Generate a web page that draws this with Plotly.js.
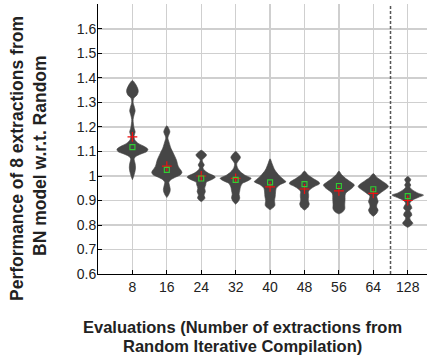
<!DOCTYPE html>
<html><head><meta charset="utf-8">
<script src="https://cdn.plot.ly/plotly-3.0.1.min.js"></script>
<style>html,body{margin:0;padding:0;background:#fff}#chart{width:431px;height:357px}</style>
</head><body><div id="chart"></div>
<script>
// Category labels and positions
var categories = ["8","16","24","32","40","48","56","64","128"];
// Density profiles (value, half-width in category units)
var profY8   = [1.39,1.375,1.355,1.344,1.33,1.318,1.30,1.28,1.266,1.25,1.23,1.195,1.18,1.165,1.15,1.135,1.12,1.109,1.10,1.09,1.08,1.07,1.05,1.033,1.015,1.0,0.985];
var profW8   = [0,0.09,0.16,0.17,0.13,0.04,0.02,0.06,0.08,0.05,0.02,0.05,0.08,0.05,0.06,0.15,0.35,0.45,0.42,0.25,0.10,0.05,0.08,0.09,0.07,0.04,0];
var profY16  = [1.205,1.19,1.18,1.165,1.155,1.14,1.113,1.09,1.065,1.04,1.025,1.015,1.005,0.995,0.985,0.975,0.96,0.945,0.935,0.92,0.912];
var profW16  = [0,0.07,0.09,0.05,0.03,0.06,0.12,0.2,0.28,0.33,0.40,0.44,0.40,0.25,0.12,0.06,0.08,0.1,0.09,0.04,0];
var profY24  = [1.105,1.095,1.086,1.075,1.065,1.055,1.045,1.035,1.025,1.012,1.0,0.995,0.985,0.975,0.963,0.95,0.936,0.922,0.91,0.90,0.895];
var profW24  = [0,0.1,0.155,0.1,0.03,0.05,0.09,0.05,0.08,0.2,0.38,0.41,0.3,0.15,0.13,0.1,0.12,0.08,0.11,0.05,0];
var profY32  = [1.10,1.09,1.076,1.062,1.05,1.035,1.02,1.005,0.99,0.98,0.97,0.955,0.94,0.925,0.91,0.895,0.885];
var profW32  = [0,0.08,0.14,0.08,0.03,0.05,0.12,0.25,0.45,0.35,0.2,0.14,0.12,0.1,0.12,0.07,0];
var profY40  = [1.07,1.05,1.024,1.0,0.985,0.977,0.965,0.95,0.935,0.916,0.90,0.88,0.87,0.862];
var profW40  = [0,0.06,0.14,0.28,0.4,0.46,0.3,0.18,0.16,0.15,0.13,0.14,0.08,0];
var profY48  = [1.02,1.005,0.99,0.975,0.968,0.958,0.945,0.935,0.925,0.915,0.9,0.886,0.872,0.86];
var profW48  = [0,0.1,0.25,0.42,0.44,0.3,0.16,0.11,0.12,0.12,0.11,0.14,0.1,0];
var profY56  = [1.02,1.005,0.99,0.975,0.963,0.95,0.94,0.93,0.92,0.905,0.885,0.865,0.852,0.845];
var profW56  = [0,0.08,0.2,0.35,0.45,0.38,0.28,0.2,0.18,0.18,0.17,0.17,0.1,0];
var profY64  = [1.01,0.995,0.98,0.965,0.956,0.945,0.93,0.918,0.905,0.895,0.882,0.872,0.861,0.848,0.835];
var profW64  = [0,0.1,0.25,0.4,0.44,0.35,0.2,0.1,0.12,0.14,0.1,0.1,0.14,0.1,0];
var profY128 = [0.998,0.99,0.984,0.975,0.97,0.963,0.955,0.945,0.93,0.922,0.912,0.9,0.888,0.878,0.868,0.858,0.85,0.84,0.83,0.82,0.807,0.797,0.79];
var profW128 = [0,0.07,0.09,0.05,0.06,0.09,0.06,0.12,0.3,0.46,0.3,0.12,0.06,0.1,0.12,0.06,0.1,0.12,0.06,0.08,0.15,0.08,0];
// Means (green squares) and red markers
var meanVals = [1.118,1.025,0.99,0.984,0.974,0.967,0.959,0.946,0.918];
var redVals  = [1.16,1.04,1.0,0.99,0.956,0.947,0.939,0.929,0.9];
// Axis title lines
var xTitleLines = ["Evaluations (Number of extractions from","Random Iterative Compilation)"];
var yTitleLines = ["Performance of 8 extractions from","BN model w.r.t. Random"];

var profilesY = [profY8,profY16,profY24,profY32,profY40,profY48,profY56,profY64,profY128];
var profilesW = [profW8,profW16,profW24,profW32,profW40,profW48,profW56,profW64,profW128];
var positions = categories.map(function(c,i){return i+1;});

var traces = [];
for (var i=0;i<categories.length;i++){
  var p = positions[i], ys = profilesY[i], ws = profilesW[i];
  var xs=[], yy=[];
  for (var k=0;k<ys.length;k++){ xs.push(p+ws[k]); yy.push(ys[k]); }
  for (var k=ys.length-1;k>=0;k--){ xs.push(p-ws[k]); yy.push(ys[k]); }
  traces.push({type:'scatter',mode:'lines',x:xs,y:yy,fill:'toself',fillcolor:'#464646',
    line:{color:'#464646',width:0.6,shape:'spline',smoothing:0.8},hoverinfo:'skip',showlegend:false});
}
traces.push({type:'scatter',mode:'markers',x:positions,y:redVals,showlegend:false,
  marker:{symbol:'cross-thin-open',size:7,line:{color:'#ee1111',width:1.2},color:'#ee1111'}});
traces.push({type:'scatter',mode:'markers',x:positions,y:meanVals,showlegend:false,
  marker:{symbol:'square-open',size:5,line:{color:'#33cc33',width:1.1},color:'#33cc33'}});

var xTitleFont = {family:'Liberation Sans, Arial, sans-serif',size:16.5,color:'#222'};
var yTitleFont = {family:'Liberation Sans, Arial, sans-serif',size:17.5,color:'#222'};
var layout = {
  width:431,height:357,margin:{l:98,r:4,t:4,b:83},
  paper_bgcolor:'#fff',plot_bgcolor:'#fff',showlegend:false,
  font:{family:'Liberation Sans, Arial, sans-serif',size:14,color:'#222'},
  xaxis:{range:[0,9.56],tickvals:positions,ticktext:categories,showgrid:true,gridcolor:'#cfcfcf',gridwidth:1.3,
    zeroline:false,showline:true,linecolor:'#000',linewidth:1,ticks:'inside',ticklen:4,tickcolor:'#000',tickwidth:1},
  yaxis:{range:[0.6,1.702],tick0:0.6,dtick:0.1,showgrid:true,gridcolor:'#cfcfcf',gridwidth:1.2,ticklabelstandoff:-2,
    zeroline:false,showline:true,linecolor:'#000',linewidth:1,ticks:'inside',ticklen:4,tickcolor:'#000',tickwidth:1},
  shapes:[
    {type:'line',xref:'paper',x0:0,x1:1,yref:'y',y0:1,y1:1,line:{color:'#555',width:2},layer:'below'},
    {type:'line',xref:'x',x0:8.5,x1:8.5,yref:'paper',y0:0,y1:1,line:{color:'#555',width:1.5,dash:'3px,2px'}}
  ],
  annotations:[
    {xref:'paper',yref:'paper',x:0.44,y:(274-327)/270,xanchor:'center',yanchor:'middle',showarrow:false,
     text:'<b>'+xTitleLines[0]+'</b>',font:xTitleFont},
    {xref:'paper',yref:'paper',x:0.44,y:(274-346)/270,xanchor:'center',yanchor:'middle',showarrow:false,
     text:'<b>'+xTitleLines[1]+'</b>',font:xTitleFont},
    {xref:'paper',yref:'paper',x:(17-98)/329,y:(274-159)/270,xanchor:'center',yanchor:'middle',showarrow:false,textangle:-90,
     text:'<b>'+yTitleLines[0]+'</b>',font:yTitleFont},
    {xref:'paper',yref:'paper',x:(40-98)/329,y:(274-156)/270,xanchor:'center',yanchor:'middle',showarrow:false,textangle:-90,
     text:'<b>'+yTitleLines[1]+'</b>',font:yTitleFont}
  ]
};
Plotly.newPlot('chart',traces,layout,{displayModeBar:false,staticPlot:true});
</script></body></html>
